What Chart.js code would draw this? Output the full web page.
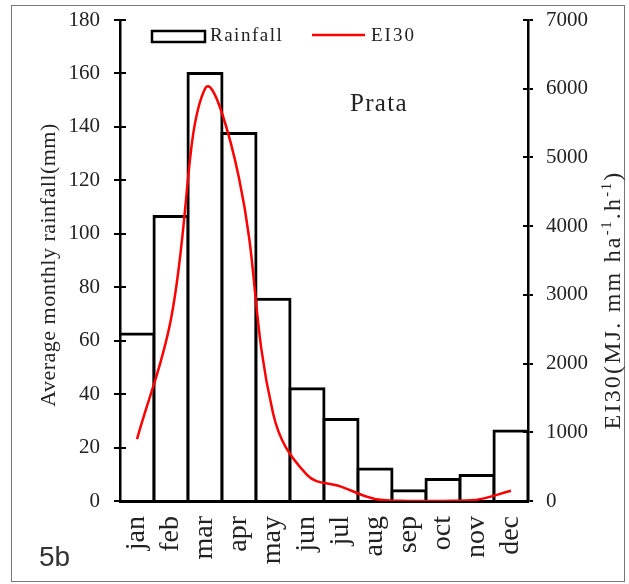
<!DOCTYPE html>
<html>
<head>
<meta charset="utf-8">
<script src="https://cdn.jsdelivr.net/npm/chart.js@4"></script>
<style>
  html, body { margin: 0; padding: 0; background: #fff; overflow: hidden; }
  canvas { display: block; }
</style>
</head>
<body>
<canvas id="chuva" width="629" height="584"></canvas>
<script>
// dados (Prata)
const meses = ['jan', 'feb', 'mar', 'apr', 'may', 'jun', 'jul', 'aug', 'sep', 'oct', 'nov', 'dec'];
const chuvaMensal = [62.5, 106.5, 160, 137.5, 75.5, 42, 30.5, 12, 3.8, 8, 9.5, 26.2];
const ei30 = [900, 2650, 6000, 4700, 1280, 380, 210, 30, 0, 0, 20, 150];
const ticksChuva = [0, 20, 40, 60, 80, 100, 120, 140, 160, 180];
const ticksEI30 = [0, 1000, 2000, 3000, 4000, 5000, 6000, 7000];

const serif = "'Liberation Serif', 'Times New Roman', serif";

// escreve pedaços de texto em sequência (para os sobrescritos)
function textoComPartes(ctx, partes, cx, cy, espaco) {
  ctx.letterSpacing = espaco + 'px';
  let total = 0;
  partes.forEach(p => {
    ctx.font = p.size + 'px ' + serif;
    p.w = ctx.measureText(p.t).width;
    total += p.w;
  });
  let x = cx - total / 2;
  ctx.textAlign = 'left';
  partes.forEach(p => {
    ctx.font = p.size + 'px ' + serif;
    ctx.fillText(p.t, x, cy + (p.dy || 0));
    x += p.w;
  });
  ctx.letterSpacing = '0px';
}

// moldura, títulos dos eixos, legenda, rótulos
const extras = {
  id: 'extras',
  beforeDraw(chart) {
    const ctx = chart.ctx;
    ctx.save();
    ctx.fillStyle = '#fff';
    ctx.fillRect(0, 0, chart.width, chart.height);
    ctx.strokeStyle = '#777';
    ctx.lineWidth = 1;
    ctx.strokeRect(11.5, 5.5, 613, 576);
    ctx.restore();
  },
  afterDraw(chart) {
    const ctx = chart.ctx;
    const area = chart.chartArea;
    ctx.save();

    // marcas para dentro dos eixos
    ctx.strokeStyle = '#000';
    ctx.lineWidth = 2;
    const sy = chart.scales.y, sy1 = chart.scales.y1;
    ticksChuva.forEach(v => {
      const p = Math.round(sy.getPixelForValue(v));
      ctx.beginPath(); ctx.moveTo(area.left, p); ctx.lineTo(area.left + 6, p); ctx.stroke();
    });
    ticksEI30.forEach(v => {
      const p = Math.round(sy1.getPixelForValue(v));
      ctx.beginPath(); ctx.moveTo(area.right - 5, p); ctx.lineTo(area.right, p); ctx.stroke();
    });

    // títulos dos eixos
    ctx.fillStyle = '#222';
    ctx.textBaseline = 'alphabetic';
    ctx.save();
    ctx.translate(55, 265);
    ctx.rotate(-Math.PI / 2);
    textoComPartes(ctx, [{ t: 'Average monthly rainfall(mm)', size: 22 }], 0, 0, 0.5);
    ctx.restore();

    ctx.save();
    ctx.translate(620, 300);
    ctx.rotate(-Math.PI / 2);
    textoComPartes(ctx, [
      { t: 'EI30(MJ. mm ha', size: 24 },
      { t: '-1', size: 14, dy: -9 },
      { t: '.h', size: 24 },
      { t: '-1', size: 14, dy: -9 },
      { t: ')', size: 24 }
    ], 0, 0, 2.2);
    ctx.restore();

    // legenda
    const ds = chart.data.datasets;
    ctx.textBaseline = 'middle';
    ctx.fillStyle = '#fff';
    ctx.fillRect(152, 31, 53, 11);
    ctx.strokeStyle = '#000';
    ctx.lineWidth = 2.5;
    ctx.strokeRect(152, 31, 53, 11);
    ctx.fillStyle = '#222';
    ctx.font = '19px ' + serif;
    ctx.textAlign = 'left';
    ctx.letterSpacing = '1.5px';
    ctx.fillText(ds[0].label, 210, 36);
    ctx.strokeStyle = '#ff0000';
    ctx.beginPath(); ctx.moveTo(312, 35); ctx.lineTo(365, 35); ctx.stroke();
    ctx.letterSpacing = '2px';
    ctx.fillText(ds[1].label, 371, 36);

    // nome do posto
    ctx.font = '25px ' + serif;
    ctx.letterSpacing = '1.3px';
    ctx.fillText('Prata', 350, 104);
    ctx.letterSpacing = '0px';

    // letra da figura
    ctx.font = "28px 'Liberation Sans', Arial, sans-serif";
    ctx.fillStyle = '#333';
    ctx.fillText('5b', 39, 558);

    ctx.restore();
  }
};

new Chart(document.getElementById('chuva'), {
  data: {
    labels: meses,
    datasets: [
      {
        type: 'bar',
        label: 'Rainfall',
        data: chuvaMensal,
        yAxisID: 'y',
        backgroundColor: '#fff',
        borderColor: '#000',
        borderWidth: 3,
        inflateAmount: 1.5,
        barPercentage: 1,
        categoryPercentage: 1,
        order: 2
      },
      {
        type: 'line',
        label: 'EI30',
        data: ei30,
        yAxisID: 'y1',
        borderColor: '#ff0000',
        borderWidth: 2.5,
        pointRadius: 0,
        tension: 0.4,
        fill: false,
        order: 1
      }
    ]
  },
  options: {
    responsive: false,
    animation: false,
    layout: { padding: { top: 20, left: 0, right: 0, bottom: 0 } },
    plugins: { legend: { display: false }, tooltip: { enabled: false } },
    scales: {
      x: {
        afterFit: s => { s.height = 83; s.paddingLeft = 0; s.paddingRight = 0; },
        grid: { display: false, drawTicks: false },
        border: { display: true, color: '#000', width: 3 },
        ticks: {
          autoSkip: false,
          minRotation: 90, maxRotation: 90, padding: 15,
          color: '#222', font: { family: serif, size: 28 }
        }
      },
      y: {
        position: 'left',
        min: 0, max: 180,
        afterFit: s => { s.width = 120; s.paddingTop = 0; s.paddingBottom = 0; },
        afterBuildTicks: s => { s.ticks = ticksChuva.map(v => ({ value: v })); },
        grid: { drawOnChartArea: false, drawTicks: true, tickLength: 6, color: '#000', lineWidth: 2 },
        border: { display: true, color: '#000', width: 2.5 },
        ticks: { padding: 14, color: '#222', font: { family: serif, size: 21 } }
      },
      y1: {
        position: 'right',
        min: 0, max: 7000,
        afterFit: s => { s.width = 101; s.paddingTop = 0; s.paddingBottom = 0; },
        afterBuildTicks: s => { s.ticks = ticksEI30.map(v => ({ value: v })); },
        grid: { drawOnChartArea: false, drawTicks: true, tickLength: 5, color: '#000', lineWidth: 2 },
        border: { display: true, color: '#000', width: 2.5 },
        ticks: {
          padding: 13, color: '#222', font: { family: serif, size: 21 },
          callback: v => String(v)
        }
      }
    }
  },
  plugins: [extras]
});
</script>
</body>
</html>
